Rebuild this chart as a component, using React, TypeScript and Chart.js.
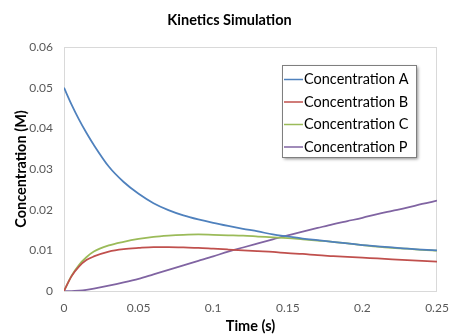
import React, { useEffect, useRef } from 'react';
import { Chart, registerables } from 'chart.js';

Chart.register(...registerables);

const times = [0, 0.005, 0.01, 0.015, 0.02, 0.03, 0.04, 0.05, 0.06, 0.07, 0.08, 0.09, 0.1, 0.11, 0.12, 0.13, 0.14, 0.15, 0.16, 0.17, 0.18, 0.19, 0.2, 0.21, 0.22, 0.23, 0.24, 0.25];
const concA = [0.05, 0.0459, 0.0422, 0.0389, 0.0359, 0.0306, 0.0268, 0.0239, 0.0216, 0.0199, 0.0186, 0.0176, 0.01675, 0.016, 0.0153, 0.01465, 0.0139, 0.0134, 0.0129, 0.0125, 0.0121, 0.0117, 0.0113, 0.011, 0.0107, 0.0104, 0.0102, 0.01];
const concB = [0, 0.0036, 0.006, 0.0076, 0.0085, 0.0097, 0.0103, 0.0106, 0.0108, 0.0108, 0.0107, 0.0106, 0.0104, 0.0102, 0.01, 0.0098, 0.0096, 0.0093, 0.0091, 0.0088, 0.0086, 0.0084, 0.0082, 0.008, 0.0078, 0.0076, 0.0074, 0.0072];
const concC = [0, 0.0037, 0.0064, 0.0083, 0.0097, 0.0112, 0.0121, 0.0128, 0.0133, 0.0136, 0.0138, 0.0139, 0.0138, 0.0137, 0.0136, 0.0134, 0.0132, 0.013, 0.0127, 0.0124, 0.0121, 0.0117, 0.0113, 0.0109, 0.0106, 0.0104, 0.0101, 0.0099];
const concP = [0, 0, 0.0001, 0.0003, 0.0006, 0.0013, 0.0021, 0.003, 0.0041, 0.0052, 0.0063, 0.0074, 0.0085, 0.0097, 0.0107, 0.0117, 0.0127, 0.0137, 0.0146, 0.0155, 0.0164, 0.0172, 0.018, 0.0189, 0.0197, 0.0205, 0.0214, 0.0222];

const seriesLabels = ['Concentration A', 'Concentration B', 'Concentration C', 'Concentration P'];
const seriesColors = ['#4F81BD', '#C0504D', '#9BBB59', '#8064A2'];
const xTickLabels = ['0', '0.05', '0.1', '0.15', '0.2', '0.25'];
const yTickLabels = ['0', '0.01', '0.02', '0.03', '0.04', '0.05', '0.06'];

const FONT = 'Lato, "Open Sans", sans-serif';

const plotFramePlugin = {
  id: 'plotFrame',
  beforeDatasetsDraw(chart: any) {
    const { ctx, chartArea } = chart;
    ctx.save();
    ctx.strokeStyle = '#D9D9D9';
    ctx.lineWidth = 1;
    ctx.strokeRect(chartArea.left + 0.5, chartArea.top + 0.5, chartArea.right - chartArea.left - 1, chartArea.bottom - chartArea.top);
    ctx.restore();
  },
};

const boxLegendPlugin = {
  id: 'boxLegend',
  afterDraw(chart: any) {
    const { ctx, chartArea } = chart;
    const boxW = 134;
    const boxH = 92;
    const boxLeft = chartArea.right - 155;
    const boxTop = chartArea.top + 18;
    ctx.save();
    ctx.shadowColor = 'rgba(0,0,0,0.45)';
    ctx.shadowBlur = 3;
    ctx.shadowOffsetX = 2;
    ctx.shadowOffsetY = 2;
    ctx.fillStyle = '#FFFFFF';
    ctx.fillRect(boxLeft, boxTop, boxW, boxH);
    ctx.restore();
    ctx.save();
    ctx.strokeStyle = '#7F7F7F';
    ctx.lineWidth = 1;
    ctx.strokeRect(boxLeft + 0.5, boxTop + 0.5, boxW, boxH);
    ctx.font = `14.5px ${FONT}`;
    ctx.textBaseline = 'middle';
    ctx.fillStyle = '#000000';
    chart.data.datasets.forEach((ds: any, i: number) => {
      const y = boxTop + 14.5 + i * 22.5;
      ctx.strokeStyle = ds.borderColor;
      ctx.lineWidth = 1.5;
      ctx.beginPath();
      ctx.moveTo(boxLeft + 2, y);
      ctx.lineTo(boxLeft + 21, y);
      ctx.stroke();
      ctx.fillText(ds.label, boxLeft + 22, y);
    });
    ctx.restore();
  },
};

export default function App() {
  const canvasRef = useRef<HTMLCanvasElement | null>(null);

  useEffect(() => {
    document.body.style.margin = '0';
    const canvas = canvasRef.current;
    if (!canvas) return;
    const seriesValues = [concA, concB, concC, concP];
    const chart = new Chart(canvas, {
      type: 'line',
      data: {
        datasets: seriesValues.map((vals, i) => ({
          label: seriesLabels[i],
          data: times.map((t, j) => ({ x: t, y: vals[j] })),
          borderColor: seriesColors[i],
          backgroundColor: seriesColors[i],
          borderWidth: 1.75,
          pointRadius: 0,
          cubicInterpolationMode: 'monotone' as const,
          fill: false,
        })),
      },
      options: {
        animation: false,
        responsive: false,
        layout: { padding: { top: 0, left: 22, right: 12, bottom: 0 } },
        plugins: {
          legend: { display: false },
          tooltip: { enabled: false },
          title: {
            display: true,
            text: 'Kinetics Simulation',
            color: '#000000',
            font: { family: FONT, size: 14.5, weight: 'bold' },
            padding: { top: 12, bottom: 17.6 },
          },
        },
        scales: {
          x: {
            type: 'linear',
            min: 0,
            max: 0.25,
            afterFit(scale: any) {
              scale.height = 44;
              scale.paddingRight = 0;
              scale.paddingLeft = 0;
            },
            grid: { display: false, drawTicks: false },
            border: { display: false },
            ticks: {
              stepSize: 0.05,
              padding: 10,
              color: '#595959',
              font: { family: FONT, size: 12 },
              maxRotation: 0,
              callback: (_v: any, idx: number) => xTickLabels[idx],
            },
            title: {
              display: true,
              text: 'Time (s)',
              color: '#000000',
              font: { family: FONT, size: 14.5, weight: 'bold' },
              padding: { top: 0, bottom: 0 },
            },
          },
          y: {
            type: 'linear',
            min: 0,
            max: 0.06,
            afterFit(scale: any) { scale.width = 42; },
            grid: { display: false, drawTicks: false },
            border: { display: false },
            ticks: {
              stepSize: 0.01,
              padding: 11,
              color: '#595959',
              font: { family: FONT, size: 12 },
              callback: (_v: any, idx: number) => yTickLabels[idx],
            },
            title: {
              display: true,
              text: 'Concentration (M)',
              color: '#000000',
              font: { family: FONT, size: 14.5, weight: 'bold' },
              padding: { top: -9, bottom: 0 },
            },
          },
        },
      },
      plugins: [plotFramePlugin, boxLegendPlugin],
    });
    return () => chart.destroy();
  }, []);

  return (
    <div style={{ position: 'absolute', left: 0, top: 0, width: 449, height: 335, background: '#fff' }}>
      <canvas ref={canvasRef} width={449} height={335} style={{ display: 'block' }} />
    </div>
  );
}
